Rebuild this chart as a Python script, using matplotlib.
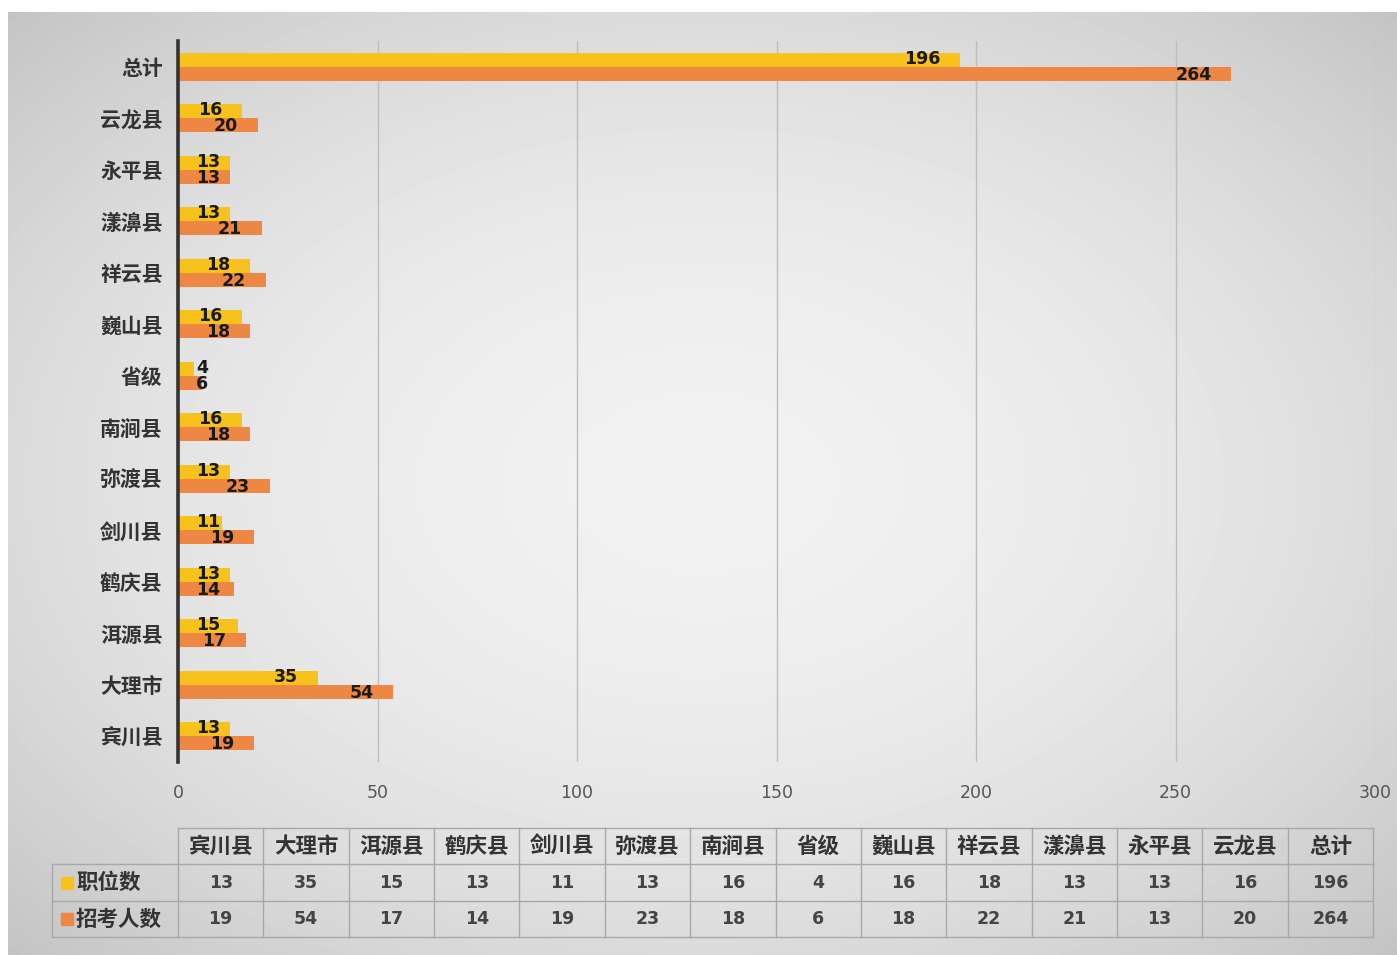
import numpy as np
import matplotlib
matplotlib.use("Agg")
import matplotlib.pyplot as plt

plt.rcParams['font.family'] = ['Noto Sans CJK SC', 'DejaVu Sans']

# data, bottom to top as drawn
categories = ['宾川县', '大理市', '洱源县', '鹤庆县', '剑川县', '弥渡县', '南涧县',
              '省级', '巍山县', '祥云县', '漾濞县', '永平县', '云龙县', '总计']
posts = [13, 35, 15, 13, 11, 13, 16, 4, 16, 18, 13, 13, 16, 196]
applicants = [19, 54, 17, 14, 19, 23, 18, 6, 18, 22, 21, 13, 20, 264]
series_names = ['职位数', '招考人数']
colors = ['#f7c21b', '#ef8744']
xticks = [0, 50, 100, 150, 200, 250, 300]

W, H = 1397, 955
fig = plt.figure(figsize=(W / 100, H / 100), dpi=100)
fig.patch.set_facecolor('white')

# gray radial gradient background
bg = fig.add_axes([8 / W, 0, 1 - 8 / W, 1 - 12 / H])
yy, xx = np.mgrid[-1:1:300j, -1:1:400j]
r = np.sqrt((xx * 0.9) ** 2 + (yy * 0.9) ** 2)
img = 0.945 - 0.11 * np.clip(r, 0, 1.3) ** 2
bg.imshow(img, cmap='gray', vmin=0, vmax=1, aspect='auto', interpolation='bilinear')
bg.axis('off')

# main bar chart
ax = fig.add_axes([178 / W, 1 - 762 / H, 1197 / W, 721 / H])
ax.patch.set_alpha(0)
y = np.arange(len(categories))
h = 0.275
ax.barh(y + h / 2, posts, height=h, color=colors[0], zorder=3)
ax.barh(y - h / 2, applicants, height=h, color=colors[1], zorder=3)

# value labels near the bar ends (they overlap a little, as in the original)
for yi, v in zip(y + h / 2, posts):
    xr = max(v - 5, 4.6 + 3 * len(str(v)))
    ax.text(xr, yi + 0.02, str(v), ha='right', va='center', fontsize=12.5,
            fontweight='bold', color='#1a1a1a', family='DejaVu Sans', zorder=4)
for yi, v in zip(y - h / 2, applicants):
    xr = max(v - 5, 4.6 + 3 * len(str(v)))
    ax.text(xr, yi - 0.02, str(v), ha='right', va='center', fontsize=12.5,
            fontweight='bold', color='#1a1a1a', family='DejaVu Sans', zorder=4)

ax.set_xlim(0, 300)
ax.set_ylim(-0.5, len(categories) - 0.5)
ax.set_xticks(xticks)
ax.set_xticklabels([str(t) for t in xticks], fontsize=12.5, color='#555555',
                   family='DejaVu Sans')
ax.set_yticks(y)
ax.set_yticklabels(categories, fontsize=15, fontweight='bold', color='#333333')
ax.tick_params(axis='both', length=0)
ax.tick_params(axis='x', pad=16)
ax.tick_params(axis='y', pad=11)
ax.grid(axis='x', color='#bdbdbd', linewidth=1, zorder=0)
for s in ['top', 'right', 'bottom']:
    ax.spines[s].set_visible(False)
ax.spines['left'].set_color('#333333')
ax.spines['left'].set_linewidth(2.6)
ax.spines['left'].set_zorder(5)

# data table below the chart (pixel coordinates)
tab = fig.add_axes([0, 0, 1, 1])
tab.set_xlim(0, W)
tab.set_ylim(H, 0)
tab.axis('off')
x0, x1 = 178, 1373
lab_left = 52
rows_y = [828, 864, 901, 937]
ncol = len(categories)
colw = (x1 - x0) / ncol
lc = '#a8a8a8'
# horizontal lines
tab.plot([x0, x1], [rows_y[0]] * 2, color=lc, lw=1)
for ry in rows_y[1:]:
    tab.plot([lab_left, x1], [ry, ry], color=lc, lw=1)
# vertical lines
tab.plot([lab_left, lab_left], [rows_y[1], rows_y[3]], color=lc, lw=1)
for k in range(ncol + 1):
    tab.plot([x0 + k * colw] * 2, [rows_y[0], rows_y[3]], color=lc, lw=1)

for k in range(ncol):
    cx = x0 + (k + 0.5) * colw
    tab.text(cx, (rows_y[0] + rows_y[1]) / 2, categories[k], ha='center', va='center',
             fontsize=15.5, fontweight='bold', color='#333333')
    tab.text(cx, (rows_y[1] + rows_y[2]) / 2, str(posts[k]), ha='center', va='center',
             fontsize=12.5, fontweight='bold', color='#444444', family='DejaVu Sans')
    tab.text(cx, (rows_y[2] + rows_y[3]) / 2, str(applicants[k]), ha='center', va='center',
             fontsize=12.5, fontweight='bold', color='#444444', family='DejaVu Sans')

for j, name in enumerate(series_names):
    cy = (rows_y[j + 1] + rows_y[j + 2]) / 2
    tab.scatter([67], [cy], marker='s', s=70, color=colors[j])
    tab.text(76, cy, name, ha='left', va='center', fontsize=15.5,
             fontweight='bold', color='#333333')

fig.savefig('out.png', dpi=100)
